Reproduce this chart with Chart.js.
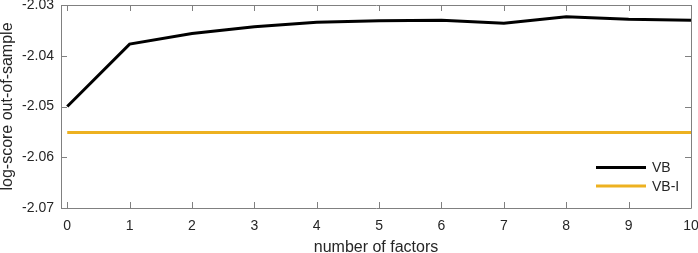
<!DOCTYPE html>
<html>
<head>
<meta charset="utf-8">
<script src="https://cdn.jsdelivr.net/npm/chart.js@4/dist/chart.umd.min.js"></script>
<style>
  html, body { margin: 0; padding: 0; background: #fff; }
  #wrap { width: 698px; height: 253px; }
</style>
</head>
<body>
<div id="wrap"><canvas id="c" width="698" height="253"></canvas></div>
<script>
// ---- data ----
const factors = [0, 1, 2, 3, 4, 5, 6, 7, 8, 9, 10];
const vbScores = [-2.0500, -2.0377, -2.0356, -2.0343, -2.0334, -2.0331, -2.0330, -2.0336, -2.0323, -2.0328, -2.0330];
const vbiScores = [-2.0551, -2.0551, -2.0551, -2.0551, -2.0551, -2.0551, -2.0551, -2.0551, -2.0551, -2.0551, -2.0551];
const xTickValues = [0, 1, 2, 3, 4, 5, 6, 7, 8, 9, 10];
const yTickValues = [-2.07, -2.06, -2.05, -2.04, -2.03];
const seriesNames = ['VB', 'VB-I'];
const xTitle = 'number of factors';
const yTitle = 'log-score out-of-sample';

const AXIS_COLOR = '#808080';
const TEXT_COLOR = '#262626';
const FONT = 'Liberation Sans, Arial, Helvetica, sans-serif';

const toPoints = (xs, ys) => xs.map((x, i) => ({ x: x, y: ys[i] }));

const boxPlugin = {
  id: 'boxTicks',
  afterDatasetsDraw(chart) {
    const { ctx, chartArea: a, scales } = chart;
    const xs = scales.x, ys = scales.y;
    const tl = 6;
    ctx.save();
    ctx.strokeStyle = AXIS_COLOR;
    ctx.lineWidth = 1;
    ctx.beginPath();
    ctx.rect(Math.round(a.left) + 0.5, Math.round(a.top) + 0.5,
             Math.round(a.right) - Math.round(a.left), Math.round(a.bottom) - Math.round(a.top));
    xTickValues.forEach(v => {
      const px = Math.round(xs.getPixelForValue(v)) + 0.5;
      ctx.moveTo(px, a.bottom); ctx.lineTo(px, a.bottom - tl);
      ctx.moveTo(px, a.top); ctx.lineTo(px, a.top + tl);
    });
    yTickValues.forEach(v => {
      const py = Math.round(ys.getPixelForValue(v)) + 0.5;
      ctx.moveTo(a.left, py); ctx.lineTo(a.left + tl, py);
      ctx.moveTo(a.right, py); ctx.lineTo(a.right - tl, py);
    });
    ctx.stroke();
    ctx.restore();
  },
  afterDraw(chart) {
    const { ctx, chartArea: a } = chart;
    const ds = chart.data.datasets;
    const rows = [a.bottom - 40.4, a.bottom - 22];
    ctx.save();
    ds.forEach((d, i) => {
      const y = rows[i];
      ctx.strokeStyle = d.borderColor;
      ctx.lineWidth = d.borderWidth;
      ctx.beginPath();
      ctx.moveTo(a.right - 95, y);
      ctx.lineTo(a.right - 45, y);
      ctx.stroke();
      ctx.fillStyle = TEXT_COLOR;
      ctx.font = '14px ' + FONT;
      ctx.textBaseline = 'middle';
      ctx.textAlign = 'left';
      ctx.fillText(d.label, a.right - 39, y + 1);
    });
    ctx.restore();
  }
};

new Chart(document.getElementById('c'), {
  type: 'line',
  data: {
    datasets: [
      {
        label: seriesNames[0],
        data: toPoints(factors, vbScores),
        borderColor: '#000000',
        borderWidth: 3,
        pointRadius: 0,
        tension: 0,
        fill: false
      },
      {
        label: seriesNames[1],
        data: toPoints(factors, vbiScores),
        borderColor: '#EDB120',
        borderWidth: 3,
        pointRadius: 0,
        tension: 0,
        fill: false
      }
    ]
  },
  options: {
    responsive: false,
    animation: false,
    devicePixelRatio: 1,
    layout: { padding: { top: 5, right: 7, bottom: 0, left: 0 } },
    plugins: {
      legend: { display: false },
      tooltip: { enabled: false }
    },
    scales: {
      x: {
        type: 'linear',
        min: -0.1,
        max: 10,
        afterBuildTicks: s => { s.ticks = xTickValues.map(v => ({ value: v })); },
        afterFit: s => { s.height = 45; s.paddingLeft = 0; s.paddingRight = 0; },
        grid: { display: false, drawTicks: false },
        border: { display: false },
        ticks: {
          color: TEXT_COLOR,
          font: { family: FONT, size: 14 },
          padding: 10,
          maxRotation: 0,
          autoSkip: false,
          callback: v => String(v)
        },
        title: {
          display: true,
          text: xTitle,
          color: TEXT_COLOR,
          font: { family: FONT, size: 16, lineHeight: 1 },
          padding: { top: 0, bottom: -3 }
        }
      },
      y: {
        type: 'linear',
        min: -2.07,
        max: -2.03,
        afterBuildTicks: s => { s.ticks = yTickValues.map(v => ({ value: v })); },
        afterFit: s => { s.width = 61; s.paddingTop = 0; s.paddingBottom = 0; },
        grid: { display: false, drawTicks: false },
        border: { display: false },
        ticks: {
          color: TEXT_COLOR,
          font: { family: FONT, size: 14 },
          padding: 7,
          autoSkip: false,
          callback: v => v.toFixed(2)
        },
        title: {
          display: true,
          text: yTitle,
          color: TEXT_COLOR,
          font: { family: FONT, size: 16, lineHeight: 1 },
          padding: { top: 0, bottom: 0 }
        }
      }
    }
  },
  plugins: [boxPlugin]
});
</script>
</body>
</html>
